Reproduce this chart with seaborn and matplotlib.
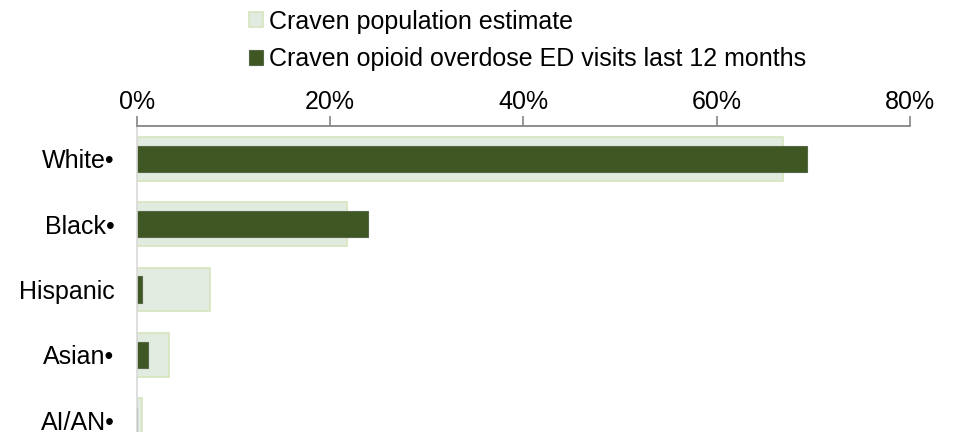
import pandas as pd
import matplotlib
matplotlib.use("Agg")
import matplotlib.pyplot as plt
import seaborn as sns
from matplotlib.patches import Patch
from matplotlib.ticker import FuncFormatter

# values (percent)
groups = ["White•", "Black•", "Hispanic", "Asian•", "AI/AN•"]
population = [66.9, 21.8, 7.6, 3.3, 0.6]
opioid_ed = [69.3, 23.9, 0.6, 1.2, 0.0]
ticks = [0, 20, 40, 60, 80]

pop_label = "Craven population estimate"
ed_label = "Craven opioid overdose ED visits last 12 months"

pop_fill = "#E2EBE0"
pop_edge = "#D7E4BD"
ed_fill = "#3E5723"
ed_edge = "#566848"

df = pd.DataFrame({"group": groups, "population": population, "opioid": opioid_ed})

sns.set_style("white")
plt.rcParams["font.family"] = ["Liberation Sans", "DejaVu Sans"]
plt.rcParams["font.size"] = 18
plt.rcParams["text.color"] = "black"

fig = plt.figure(figsize=(9.55, 4.32), dpi=100)
ax = fig.add_axes([0.1431, -0.0486, 0.8098, 0.7569])

sns.barplot(data=df, x="population", y="group", order=groups, color=pop_fill,
            edgecolor=pop_edge, linewidth=1.2, width=0.67, saturation=1, ax=ax)
sns.barplot(data=df, x="opioid", y="group", order=groups, color=ed_fill,
            edgecolor=ed_edge, linewidth=0.8, width=0.40, saturation=1, ax=ax)

ax.set_xlim(0, 80)
ax.set_ylim(len(groups) - 0.5, -0.5)
ax.set_xticks(ticks)
ax.xaxis.set_major_formatter(FuncFormatter(lambda v, p: f"{v:.0f}%"))
ax.xaxis.tick_top()
ax.set_xlabel("")
ax.set_ylabel("")
ax.tick_params(axis="x", which="major", direction="out", length=7, width=1.2,
               color="#868686", pad=2, labelsize=18, labelcolor="black")
ax.tick_params(axis="y", length=0, pad=16, labelsize=18, labelcolor="black")

for side in ["right", "bottom"]:
    ax.spines[side].set_visible(False)
ax.spines["top"].set_color("#868686")
ax.spines["top"].set_linewidth(1.3)
ax.spines["left"].set_color("#D9D9D9")
ax.spines["left"].set_linewidth(1.2)
ax.grid(False)

handles = [Patch(facecolor=pop_fill, edgecolor=pop_edge, linewidth=1.2, label=pop_label),
           Patch(facecolor=ed_fill, edgecolor=ed_edge, linewidth=0.8, label=ed_label)]
fig.legend(handles=handles, loc="upper left", bbox_to_anchor=(249 / 955, 0.978),
           frameon=False, fontsize=18, handlelength=0.56, handleheight=0.56,
           handletextpad=0.25, labelspacing=0.55, borderpad=0, borderaxespad=0)

fig.savefig("out.png", dpi=100)
